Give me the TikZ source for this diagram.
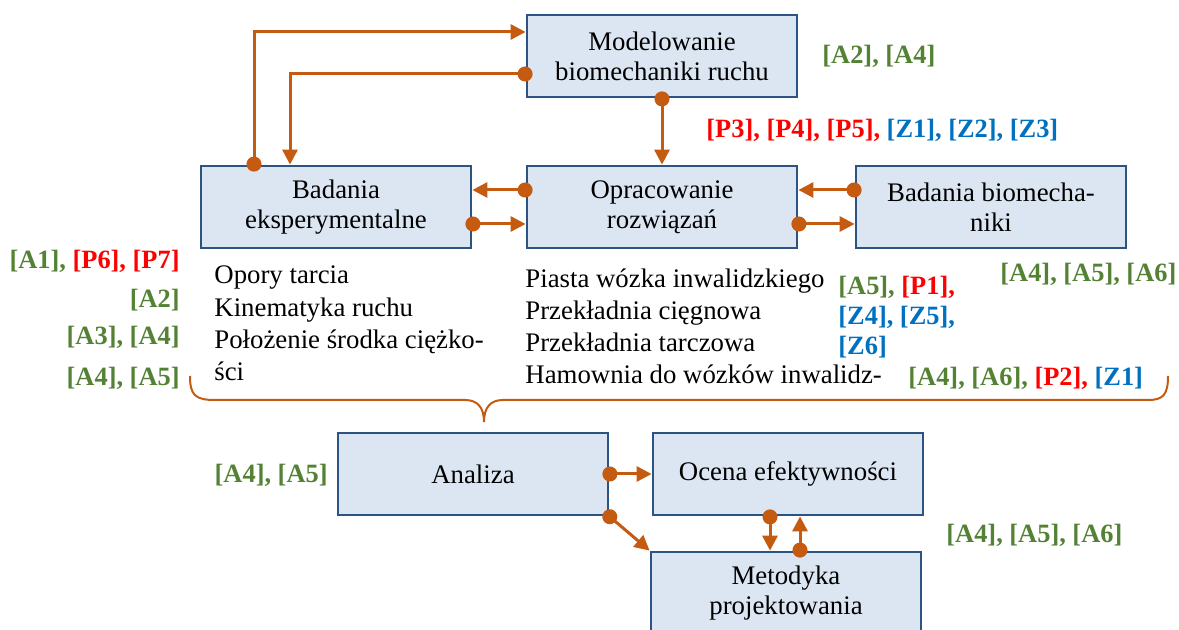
\documentclass[tikz,border=0pt]{standalone}
\usepackage{fontspec}
\setmainfont{Liberation Serif}
\usetikzlibrary{arrows.meta,positioning}

\definecolor{boxfill}{RGB}{220,230,242}
\definecolor{boxline}{RGB}{44,84,130}
\definecolor{flow}{RGB}{197,90,17}
\definecolor{refgreen}{RGB}{84,130,53}
\definecolor{refred}{RGB}{255,0,0}
\definecolor{refblue}{RGB}{0,112,192}
\newcommand{\cA}[1]{\textcolor{refgreen}{#1}}
\newcommand{\cP}[1]{\textcolor{refred}{#1}}
\newcommand{\cZ}[1]{\textcolor{refblue}{#1}}

\begin{document}
\begin{tikzpicture}[x=0.5pt,y=-0.5pt,font=\fontsize{13.4}{15}\selectfont]
    \tikzstyle{block} = [rectangle, draw=boxline, line width=1.4pt, fill=boxfill,
        minimum width=135pt, minimum height=41pt, align=center, inner sep=2pt]
    \tikzstyle{line} = [flow, line width=1.5pt, shorten <=-3.5pt,
        {Circle[length=7.5pt]}-{Triangle[length=7.5pt,width=7.5pt]}]
    \tikzstyle{refs} = [font=\fontsize{13.2}{15}\selectfont\bfseries, inner sep=0pt]
    \tikzstyle{item} = [anchor=base west, inner sep=0pt]

    \useasboundingbox (0,0) rectangle (1179,630);

    % Upper row
    \node[block] (mod) at (662,56) {Modelowanie\\biomechaniki ruchu};
    \node[block] (bad) at (336,207) {Badania\\eksperymentalne};
    \node[block] (opr) at (662,207) {Opracowanie\\rozwiązań};
    \node[block] (bio) at (991,207) {Badania biomecha-\\niki};

    \draw[line] ([xshift=-41pt]bad.north) |- ([yshift=12pt]mod.west);
    \draw[line] ([yshift=-9pt]mod.west) -| ([xshift=-23pt]bad.north);
    \draw[line] (mod.south) -- (opr.north);
    \draw[line] ([yshift=8.5pt]opr.west) -- ([yshift=8.5pt]bad.east);
    \draw[line] ([yshift=-8.5pt]bad.east) -- ([yshift=-8.5pt]opr.west);
    \draw[line] ([yshift=8.5pt]bio.west) -- ([yshift=8.5pt]opr.east);
    \draw[line] ([yshift=-8.5pt]opr.east) -- ([yshift=-8.5pt]bio.west);

    \node[refs, anchor=west] (rmod) at (822,56) {\cA{[A2], [A4]}};
    \node[refs, anchor=west] (ropr) at (706,130)
        {\cP{[P3], [P4], [P5],} \cZ{[Z1], [Z2], [Z3]}};

    % Results of the experiments
    \node[item] (e1) at (214,284) {Opory tarcia};
    \node[item] (e2) at (214,317) {Kinematyka ruchu};
    \node[item] (e3) at (214,349) {Położenie środka ciężko-};
    \node[item] (e4) at (214,381) {ści};
    \node[refs, anchor=east] (re1) at (180,261) {\cA{[A1],} \cP{[P6], [P7]}};
    \node[refs, anchor=east] (re2) at (180,300) {\cA{[A2]}};
    \node[refs, anchor=east] (re3) at (180,337) {\cA{[A3], [A4]}};
    \node[refs, anchor=east] (re4) at (180,378) {\cA{[A4], [A5]}};

    % Developed solutions
    \node[item] (s1) at (525,288) {Piasta wózka inwalidzkiego};
    \node[item] (s2) at (525,320) {Przekładnia cięgnowa};
    \node[item] (s3) at (525,352) {Przekładnia tarczowa};
    \node[item] (s4) at (525,384) {Hamownia do wózków inwalidz-};
    \node[refs, anchor=west] (rs1) at (838,287) {\cA{[A5],} \cP{[P1],}};
    \node[refs, anchor=west] (rs2) at (838,317) {\cZ{[Z4], [Z5],}};
    \node[refs, anchor=west] (rs3) at (838,347) {\cZ{[Z6]}};
    \node[refs, anchor=west] (rs4) at (908,378)
        {\cA{[A4], [A6],} \cP{[P2],} \cZ{[Z1]}};
    \node[refs, anchor=west] (rbio) at (1000,274) {\cA{[A4], [A5], [A6]}};

    % Brace
    \draw[flow, line width=1pt] (190,376) .. controls (190,395) and (195,400) .. (215,400)
        -- (465,400) .. controls (478,400) and (484,408) .. (484,422)
        .. controls (484,408) and (490,400) .. (503,400)
        -- (1148,400) .. controls (1163,400) and (1168,395) .. (1168,376);

    % Lower part
    \node[block] (ana) at (473,474) {Analiza};
    \node[block] (oce) at (788,474) {Ocena efektywności};
    \node[block] (met) at (786,593) {Metodyka\\projektowania};

    \draw[line] (ana.east) -- (oce.west);
    \draw[line] (ana.south east) -- (met.north west);
    \draw[line] ([xshift=-9pt]oce.south) -- ([xshift=-9pt]oce.south |- met.north);
    \draw[line] ([xshift=6pt]oce.south |- met.north) -- ([xshift=6pt]oce.south);

    \node[refs, anchor=east] (rana) at (328,475) {\cA{[A4], [A5]}};
    \node[refs, anchor=west] (rmet) at (946,535) {\cA{[A4], [A5], [A6]}};
\end{tikzpicture}
\end{document}
